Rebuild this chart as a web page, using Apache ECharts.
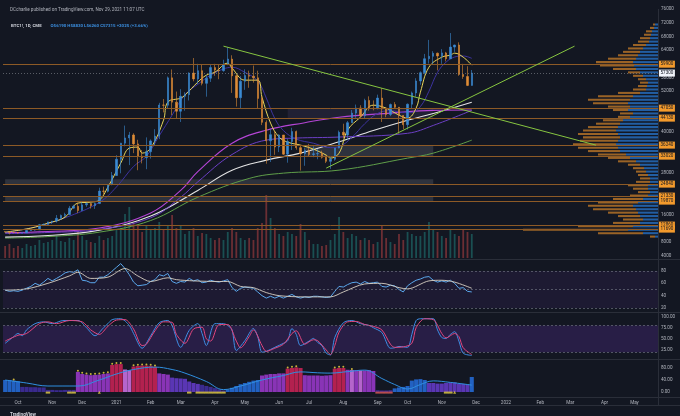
<!DOCTYPE html>
<html><head><meta charset="utf-8">
<script src="https://cdn.jsdelivr.net/npm/echarts@6/dist/echarts.min.js"></script>
<style>html,body{margin:0;padding:0;background:#131722;}#c{width:680px;height:416px;}</style>
</head><body><div id="c"></div>
<script>
// ---------- DATA (4-day bins starting 2020-09-17) ----------
const ohlc = [ // [open, close, low, high]
[10950,10920,10750,11100],[10920,10740,10150,10950],[10740,10700,10600,10950],[10700,10570,10400,10850],
[10570,10600,10500,10800],[10600,11300,10550,11450],[11300,11430,11250,11700],[11430,11500,11250,11600],
[11500,12990,11400,13200],[12990,13050,12800,13350],[13050,13800,13000,13850],[13800,14030,13200,14070],
[14030,14840,13600,15800],[14840,15700,14400,15950],[15700,15960,15200,16480],[15960,17820,15900,18470],
[17820,18360,17700,18800],[18360,17140,16400,19400],[17140,18790,17000,19900],[18790,19150,18200,19500],
[19150,18550,17700,19400],[18550,19170,17600,19400],[19170,22800,19000,23800],[22800,22740,21800,24100],
[22740,24710,22400,24800],[24710,27360,24500,28400],[27360,32120,27300,33300],[32120,36820,28000,36900],
[36820,38350,35900,41950],[38350,39200,30400,40100],[39200,36600,33900,39700],[36600,33000,28900,37800],
[33000,32570,30900,34800],[32570,34300,29200,38500],[34300,37470,32300,37900],[37470,38900,36200,40900],
[38900,47970,38000,48600],[47970,47900,45800,49700],[47900,55900,47100,56300],[55900,48800,45000,58350],
[48800,46150,44100,51900],[46150,50500,43000,52600],[50500,51000,46300,51700],[51000,57300,49300,57500],
[57300,55600,54900,61700],[55600,58000,54100,60000],[58000,54300,53700,59900],[54300,55800,50400,56600],
[55800,58900,54700,59800],[58900,58200,56500,60000],[58200,58000,55500,59900],[58000,59800,57700,61200],
[59800,61400,59600,64850],[61400,56500,51500,62500],[56500,50100,47500,56800],[50100,54900,47000,56400],
[54900,56600,52400,58400],[56600,56400,53000,58000],[56400,55900,54500,59500],[55900,49900,46900,58000],
[49900,42900,42100,50600],[42900,37500,30800,43500],[37500,39300,31300,40800],[39300,35700,33400,40400],
[35700,39200,34200,39400],[39200,33600,33400,39200],[33600,37300,31100,38000],[37300,40200,34800,41300],
[40200,35500,34900,40500],[35500,33700,28800,36100],[33700,34700,30200,35500],[34700,33500,33000,36600],
[33500,33700,32700,35900],[33700,33800,32100,35100],[33800,32700,32300,34600],[32700,31500,31000,33200],
[31500,32100,29300,32800],[32100,35400,31700,35400],[35400,40000,35300,40500],[40000,39200,38300,42500],
[39200,42800,37700,43300],[42800,45600,42800,46500],[45600,47100,44200,48100],[47100,44800,44300,47900],
[44800,49300,43900,49800],[49300,47000,46300,50500],[47000,46900,46400,49300],[46900,50000,46700,51000],
[50000,46800,43000,52900],[46800,45200,44400,47300],[45200,48100,44700,48400],[48100,47300,46900,48800],
[47300,44900,39600,47400],[44900,42200,40900,45000],[42200,48200,40800,48400],[48200,51500,47000,51900],
[51500,55000,50400,55800],[55000,57400,53900,57800],[57400,61500,56900,62900],[61500,62200,60100,67000],
[62200,63100,59700,63700],[63100,62300,58100,63300],[62300,63200,60000,64300],[63200,61500,60700,63500],
[61500,64900,61400,69000],[64900,65500,63500,65600],[65500,56900,56500,66300],[56900,56300,55600,60000],
[56300,53700,53500,59300],[53700,57300,53600,58200]
];
const volume = [12,14,10,12,10,14,12,13,18,15, 16,18,22,17,16,20,18,26,22,18,
 16,15,22,18,20,22,28,30,44,51, 35,34,26,33,28,30,36,28,32,43,
 30,32,24,27,30,22,25,24,20,18, 20,18,26,30,26,20,18,20,18,30,
 35,63,40,30,24,22,26,24,22,34, 26,18,14,14,12,13,18,24,41,26,
 20,24,22,18,20,18,14,16,33,20, 16,14,24,18,26,24,22,22,26,36,
 28,26,22,20,28,24,22,28,26,24];
// moving averages: [bin, price]
const maYellow = [[0,10810],[6,11980],[10,13440],[14,15200],[17,19290],[20,19580],[22,20160],[24,23960],[27,30980],[29,35360],[31,35650],[32,33900],[34,35360],[37,43540],[38,48800],[41,49970],[42,50850],[45,54650],[47,56690],[49,57570],[52,60200],[53,58740],[56,55230],[59,55230],[60,50260],[62,42670],[64,38570],[66,37110],[69,36240],[72,35070],[75,33310],[76,32440],[78,33900],[80,40620],[83,44420],[86,47920],[89,47050],[92,45000],[94,44130],[96,47050],[97,51720],[99,59030],[102,61950],[104,62540],[105,63120],[107,61950],[109,59610]];
const maViolet = [[0,10700],[7,12300],[14,15000],[22,19500],[26,24000],[30,30000],[33,33000],[36,39000],[39,45000],[42,51000],[45,54000],[48,56700],[51,58500],[53,59000],[56,57500],[59,55000],[61,50000],[63,44000],[65,40500],[68,38000],[72,36800],[76,35500],[78,35800],[81,38500],[84,42500],[87,45500],[90,46300],[93,45800],[95,45800],[97,47500],[99,52000],[101,57500],[103,60500],[105,62000],[107,62300],[109,61600]];
const maMagenta = [[0,10700],[10,11000],[22,12000],[34,16400],[41,23000],[45,28500],[53,36800],[61,40600],[70,42800],[78,44400],[90,45600],[100,46400],[109,46500]];
const maPurple = [[0,10400],[10,10700],[22,11600],[34,15000],[41,21000],[45,25500],[53,33500],[61,37700],[68,38300],[78,38600],[94,39700],[100,42000],[109,46400]];
const maWhite = [[0,9350],[10,9800],[22,11400],[34,15500],[45,23000],[53,28900],[61,31850],[69,33900],[78,37200],[86,40500],[94,43500],[100,45500],[109,48800]];
const maGreen = [[0,9060],[10,9500],[22,10800],[34,14200],[45,21000],[57,26500],[65,28050],[78,28930],[94,32440],[100,33900],[109,37700]];
// horizontal levels & current price
const levels = [59900,47050,44130,36240,33020,24840,21330,19870,12860,11690];
const lastPrice = 57300;
// trend lines: [[bin, price],[bin, price]]
const trendDown = [[51,65170],[138,36240]];
const trendUp = [[75,29520],[133,65170]];
// zones [[binFrom, priceA],[binTo, priceB]]
const greyZones = [[[0,26300],[100,24840]],[[0,21330],[100,19870]],[[70,36240],[100,33020]]];
const purpleZones = [[[66,47050],[100,44130]]];
// price-axis labels hidden behind level tags
const hiddenPriceLabels = [0,12000,20000,24000,32000,36000,44000,48000,60000];
// volume profile per 1000 price bin (0..75)
const profBlue = [0,0,0,0,0,0,0,0,0,3,15,30,25,18,15,18,20,22,25,20,15,10,8,10,10,8,8,10,12,14,18,22,28,32,38,40,42,40,38,40,42,40,38,35,28,25,30,28,30,28,25,18,12,11,10,12,15,18,22,24,25,22,20,18,15,12,9,8,7,6,4,3,0,0,0,0];
const profOrange = [0,0,0,0,0,0,0,0,0,5,45,105,55,27,20,22,30,43,45,40,30,18,12,15,20,14,10,10,10,11,12,18,22,28,32,40,43,38,37,40,33,30,24,20,12,13,15,22,35,42,35,22,13,9,8,8,10,12,23,34,37,28,20,17,15,13,11,10,7,6,4,2,0,0,0,0];
// RSI
const rsi = [49,47,48,47,49,52,55,60,57,62, 68,64,68,72,77,79,78,82,65,64,
 61,61,70,70,74,80,86,92,84,74, 62,56,57,58,63,66,74,72,76,63,
 60,63,62,68,64,66,61,62,65,63, 62,64,66,53,47,52,54,53,52,46,
 40,36,39,36,39,36,39,42,38,36, 38,37,39,39,38,37,38,47,55,54,
 58,61,62,59,63,60,61,62,55,54, 57,56,50,46,56,61,65,67,70,71,
 65,62,64,62,65,60,52,53,47,46];
const rsiMA = [[0,49],[5,51],[10,60],[15,72],[17,78],[20,68],[24,70],[28,84],[31,72],[34,63],[38,69],[40,66],[44,64],[50,63],[52,63],[55,55],[58,53],[61,45],[64,40],[70,38],[76,38],[79,46],[84,59],[88,60],[92,53],[94,51],[99,64],[102,65],[105,62],[109,52]];
// Stoch RSI
const stochK = [[0,40],[2,55],[3,62],[4,57],[5,70],[7,84],[9,88],[11,84],[13,90],[14,91],[17,91],[19,75],[21,57],[23,75],[24,84],[25,93],[27,95],[29,80],[30,62],[32,29],[34,57],[36,86],[38,91],[39,80],[41,31],[43,69],[45,84],[46,62],[47,35],[49,84],[51,84],[52,80],[53,70],[54,24],[56,46],[58,73],[59,55],[60,20],[61,22],[63,31],[65,40],[66,46],[67,73],[68,60],[69,35],[71,45],[72,51],[73,42],[74,35],[75,18],[76,14],[77,53],[79,86],[81,91],[83,84],[85,80],[86,75],[88,64],[90,29],[91,30],[92,33],[94,31],[95,60],[96,91],[97,95],[100,95],[101,70],[102,53],[103,51],[104,60],[105,66],[106,45],[107,18],[109,13]];
const stochD = [[0,45],[3,58],[5,62],[8,84],[10,88],[12,84],[15,91],[18,88],[20,70],[22,60],[24,78],[26,92],[28,93],[30,72],[32,35],[33,38],[35,68],[37,88],[39,87],[40,60],[42,40],[44,72],[46,76],[47,50],[48,45],[50,82],[52,82],[54,45],[55,30],[57,55],[58,70],[60,35],[61,22],[63,29],[65,38],[67,62],[68,68],[70,38],[72,48],[73,46],[75,25],[76,15],[77,35],[78,65],[80,88],[82,89],[84,82],[86,78],[88,70],[90,38],[91,31],[93,32],[95,40],[96,75],[98,95],[100,93],[102,62],[103,52],[105,62],[106,55],[107,30],[109,15]];
// momentum histogram + colour codes
const hist = [40,40,38,36, 17,17,16,16,15,15, 7,7,6,6,7,7,7, 67,60,58,56,57,58,60,62, 90,93,93, 75,73,
 85,87,88,88,87,84, 62,60,58, 48,46,45,44, 35,30,27,24,20,17,13,9,5, 8,14,20,26,30,34,38,40,
 55,58,60,60,62,62, 78,80,82,80, 56,55,55,55,54,55,56, 78,80,80, 74,73,73,72,72,73,70,
 6,5,5,6, 12,15,17,20, 38,42,43,40, 30,30,28,28,30,32,32,28,27,25, 50];
const histCodes = 'bbbb'+'iiiiii'+'iiiiiii'+'pppppppp'+'rrr'+'mm'+'rrrrrr'+'ppp'+'vvvv'+'vvviiiiii'+'bbbbbbbb'+'pppppp'+'rrrr'+'ppppppp'+'rrr'+'pmpmppp'+'iiii'+'bbbb'+'bbbb'+'vvvvvvvvvv'+'b';
const histLine = [[0,40],[5,30],[10,20],[17,20],[22,40],[26,60],[30,75],[35,83],[39,75],[42,63],[47,35],[51,8],[55,20],[60,40],[65,55],[69,67],[73,64],[76,63],[80,68],[84,73],[88,45],[91,25],[94,10],[97,25],[100,37],[104,32],[109,23]];
const dotBins = [2,17,18,19,20,21,22,23,24,25,26,27,30,31,32,33,34,35,66,67,68,77,78,79,81];
const yellowBaseBins = [10,15,16,43,45,46,47,48,49,50,51,103,104];
const redBaseBins = [87,88,89,90];
const triangleBins = [22,105];

// ---------- AXIS CATEGORIES ----------
const DAY = 86400000, START = Date.UTC(2020,8,17), BINS = 153;
const MONTHS = ['Jan','Feb','Mar','Apr','May','Jun','Jul','Aug','Sep','Oct','Nov','Dec'];
const cats = [];
for (let i=0;i<BINS;i++) cats.push(new Date(START+i*4*DAY).toISOString().slice(0,10));
function monthLabel(i){
  for (let k=0;k<4;k++){ const d=new Date(START+(i*4+k)*DAY);
    if (d.getUTCDate()===1) return d.getUTCMonth()===0 ? String(d.getUTCFullYear()) : MONTHS[d.getUTCMonth()]; }
  return null;
}
const profCats = []; for (let i=0;i<76;i++) profCats.push(String(i*1000));

// ---------- STYLE ----------
const FONT='Roboto', TXT='#b2b5be', FS=4.6;
const UP='#3a8ad2', DOWN='#de8c36';
const HCOL={b:'#2261c2',i:'#3a2a8e',v:'#5a36b4',p:'#8934b6',r:'#b3214f',m:'#b565cc'};
const hide = {show:false};
function catX(grid, show){ return {type:'category', gridIndex:grid, data:cats, boundaryGap:true, show:!!show,
  axisLine:hide, axisTick:hide, splitLine:hide}; }

const levelLines = levels.map(p=>({yAxis:p, lineStyle:{color:'#8d5a26', width:1, type:'solid'},
  label:{show:true, position:'end', distance:1, formatter:String(p), backgroundColor:'#f39a2c', color:'#131722',
    fontSize:FS, fontFamily:FONT, padding:[1,1.5]}}));
levelLines.push({yAxis:lastPrice, lineStyle:{color:'#8a8d96', width:0.6, type:[1,2]},
  label:{show:true, position:'end', distance:1, formatter:String(lastPrice), backgroundColor:'#f0f3fa', color:'#131722',
    fontSize:FS, fontFamily:FONT, padding:[1,1.5]}});
const trendStyle = {color:'#86c540', width:1, type:'solid'};
levelLines.push([{coord:trendDown[0], lineStyle:trendStyle, label:hide},{coord:trendDown[1]}]);
levelLines.push([{coord:trendUp[0], lineStyle:trendStyle, label:hide},{coord:trendUp[1]}]);

const zoneData = greyZones.map(z=>[{coord:z[0], itemStyle:{color:'rgba(120,123,134,0.28)'}},{coord:z[1]}])
  .concat(purpleZones.map(z=>[{coord:z[0], itemStyle:{color:'rgba(110,90,150,0.16)'}},{coord:z[1]}]));

function maLine(data,color,w){ return {type:'line', xAxisIndex:0, yAxisIndex:0, data, smooth:0.4, showSymbol:false,
  lineStyle:{color, width:w||1}, z:3}; }

const option = {
  backgroundColor:'#131722', animation:false,
  textStyle:{fontFamily:FONT},
  title:[
    {text:'DCcharlie published on TradingView.com, Nov 29, 2021 11:07 UTC', left:5, top:2,
      textStyle:{fontSize:4.6, color:TXT, fontWeight:'normal', fontFamily:FONT}},
    {text:'{a|BTC1!, 1D, CME}  {b|O56190 H58830 L56260 C57315 +2025 (+3.66%)}', left:6, top:12,
      textStyle:{rich:{a:{fontSize:4.4, color:'#d1d4dc', fontFamily:FONT}, b:{fontSize:4.4, color:'#3b8fe0', fontFamily:FONT}}}},
    {text:'TradingView', left:5, top:407, textStyle:{fontSize:4.6, color:'#d1d4dc', fontWeight:'bold', fontFamily:FONT}}
  ],
  graphic:[
    {type:'line', shape:{x1:0,y1:259.5,x2:680,y2:259.5}, style:{stroke:'#2a2e39', lineWidth:1}},
    {type:'line', shape:{x1:0,y1:312.5,x2:680,y2:312.5}, style:{stroke:'#2a2e39', lineWidth:1}},
    {type:'line', shape:{x1:0,y1:359.5,x2:680,y2:359.5}, style:{stroke:'#2a2e39', lineWidth:1}},
    {type:'line', shape:{x1:0,y1:397.5,x2:680,y2:397.5}, style:{stroke:'#2a2e39', lineWidth:1}},
    {type:'line', shape:{x1:0,y1:405.5,x2:680,y2:405.5}, style:{stroke:'#2a2e39', lineWidth:1}},
    {type:'line', shape:{x1:658.5,y1:9,x2:658.5,y2:405}, style:{stroke:'#2a2e39', lineWidth:1}}
  ],
  grid:[
    {left:3, right:22, top:9.1, height:260},      //0 main
    {left:3, right:22, top:158, height:100},      //1 volume
    {left:508, right:22, top:9.1, height:260},    //2 profile
    {left:3, right:22, top:258.7, height:61.6},   //3 rsi
    {left:3, right:22, top:316.5, height:44.7},   //4 stoch
    {left:3, right:22, top:356, height:48},       //5 momentum
    {left:3, right:22, top:360, height:37}        //6 time axis
  ],
  xAxis:[
    catX(0), catX(1),
    {type:'value', gridIndex:2, min:0, max:150, inverse:true, show:false},
    catX(3), catX(4), catX(5),
    Object.assign(catX(6,true), {axisLabel:{interval:(i)=>monthLabel(i)!==null, formatter:(v,i)=>monthLabel(i)||'',
      fontSize:FS, color:TXT, margin:3, fontFamily:FONT}})
  ],
  yAxis:[
    {type:'value', gridIndex:0, position:'right', min:0, max:76000, interval:4000, splitLine:hide, axisLine:hide, axisTick:hide,
      axisLabel:{fontSize:FS, color:TXT, margin:3, fontFamily:FONT, formatter:v=>hiddenPriceLabels.indexOf(v)>=0?'':String(v)}},
    {type:'value', gridIndex:1, min:0, max:100, show:false},
    {type:'category', gridIndex:2, data:profCats, show:false},
    {type:'value', gridIndex:3, position:'right', min:0, max:100, interval:20, splitLine:hide, axisLine:hide, axisTick:hide,
      axisLabel:{fontSize:FS, color:TXT, margin:3, fontFamily:FONT, formatter:v=>(v===0||v===100)?'':String(v)}},
    {type:'value', gridIndex:4, position:'right', min:0, max:100, interval:25, splitLine:hide, axisLine:hide, axisTick:hide,
      axisLabel:{fontSize:FS, color:TXT, margin:3, fontFamily:FONT, formatter:v=>v===0?'':v.toFixed(2)}},
    {type:'value', gridIndex:5, position:'right', min:-40, max:120, interval:40, splitLine:hide, axisLine:hide, axisTick:hide,
      axisLabel:{fontSize:FS, color:TXT, margin:3, fontFamily:FONT, formatter:v=>(v<0||v>100)?'':v.toFixed(2)}},
    {type:'value', gridIndex:6, show:false}
  ],
  series:[
    {type:'bar', xAxisIndex:2, yAxisIndex:2, stack:'vp', data:profBlue, barCategoryGap:'40%',
      itemStyle:{color:'rgba(38,114,200,0.78)'}, z:1},
    {type:'bar', xAxisIndex:2, yAxisIndex:2, stack:'vp', data:profOrange, barCategoryGap:'40%',
      itemStyle:{color:'rgba(200,126,40,0.75)'}, z:1},
    {type:'bar', xAxisIndex:1, yAxisIndex:1, barWidth:1.8, z:1,
      data:volume.map((v,i)=>({value:v, itemStyle:{color: (ohlc[i] && ohlc[i][1]>=ohlc[i][0]) ? 'rgba(38,166,154,0.4)' : 'rgba(239,83,80,0.4)'}}))},
    {type:'candlestick', xAxisIndex:0, yAxisIndex:0, data:ohlc, barWidth:1.9, z:4,
      itemStyle:{color:UP, color0:DOWN, borderColor:UP, borderColor0:DOWN, borderWidth:0.6},
      markLine:{symbol:['none','none'], silent:true, animation:false, data:levelLines},
      markArea:{silent:true, data:zoneData}},
    maLine(maGreen,'#5f9e49'),
    maLine(maWhite,'#e4e4e4',1.1),
    maLine(maPurple,'#6b3fc4'),
    maLine(maMagenta,'#b545d6',1.1),
    maLine(maViolet,'#3d33a0'),
    maLine(maYellow,'#e9d65a'),
    {type:'line', xAxisIndex:3, yAxisIndex:3, data:rsi, showSymbol:false, lineStyle:{color:'#5aa7ec', width:1}, z:3,
      markArea:{silent:true, data:[[{yAxis:20, itemStyle:{color:'rgba(120,60,200,0.10)'}},{yAxis:80}]]},
      markLine:{symbol:['none','none'], silent:true, label:hide, lineStyle:{color:'#6b6f7d', width:0.7, type:[2,2]},
        data:[{yAxis:80},{yAxis:50},{yAxis:20}]}},
    {type:'line', xAxisIndex:3, yAxisIndex:3, data:rsiMA, smooth:0.3, showSymbol:false, lineStyle:{color:'#d9d1c4', width:0.9}, z:3},
    {type:'line', xAxisIndex:4, yAxisIndex:4, data:stochK, smooth:0.3, showSymbol:false, lineStyle:{color:'#3e8ee6', width:1}, z:3,
      markArea:{silent:true, data:[[{yAxis:20, itemStyle:{color:'rgba(120,60,200,0.22)'}},{yAxis:80}]]},
      markLine:{symbol:['none','none'], silent:true, label:hide, lineStyle:{color:'#6b6f7d', width:0.7, type:[2,2]},
        data:[{yAxis:80},{yAxis:20}]}},
    {type:'line', xAxisIndex:4, yAxisIndex:4, data:stochD, smooth:0.3, showSymbol:false, lineStyle:{color:'#e0467e', width:1}, z:3},
    {type:'bar', xAxisIndex:5, yAxisIndex:5, barCategoryGap:'5%', z:2,
      data:hist.map((v,i)=>({value:v, itemStyle:{color:HCOL[histCodes[i]]||'#5a36b4'}}))},
    {type:'line', xAxisIndex:5, yAxisIndex:5, data:histLine, smooth:0.4, showSymbol:false, lineStyle:{color:'#2f8fe0', width:1}, z:3},
    {type:'scatter', xAxisIndex:5, yAxisIndex:5, symbolSize:2, itemStyle:{color:'#f5d742'}, z:4,
      data:dotBins.map(b=>[b, hist[b]+4])},
    {type:'scatter', xAxisIndex:5, yAxisIndex:5, symbol:'rect', symbolSize:[4.5,2], itemStyle:{color:'#e8cf48'}, z:4,
      data:yellowBaseBins.map(b=>[b,-2])},
    {type:'scatter', xAxisIndex:5, yAxisIndex:5, symbol:'rect', symbolSize:[4.5,2], itemStyle:{color:'#e05a5a'}, z:4,
      data:redBaseBins.map(b=>[b,-2])},
    {type:'scatter', xAxisIndex:5, yAxisIndex:5, symbol:'triangle', symbolSize:3, itemStyle:{color:'#e8cf48'}, z:4,
      data:triangleBins.map(b=>[b,-1])}
  ]
};
echarts.init(document.getElementById('c')).setOption(option);
</script>
</body></html>
